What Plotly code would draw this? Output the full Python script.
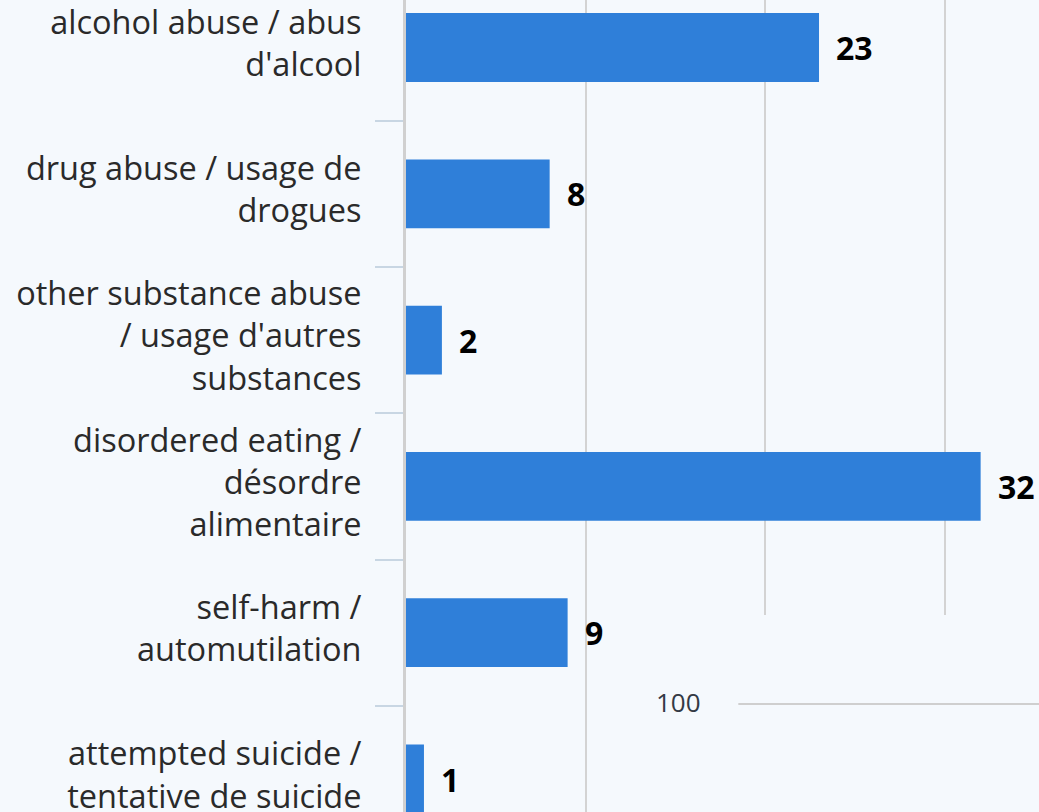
import plotly.graph_objects as go

# Reported experiences (count of respondents)
categories = [
    "alcohol abuse / abus<br>d'alcool",
    "drug abuse / usage de<br>drogues",
    "other substance abuse<br>/ usage d'autres<br>substances",
    "disordered eating /<br>désordre<br>alimentaire",
    "self-harm /<br>automutilation",
    "attempted suicide /<br>tentative de suicide",
]
counts = [23, 8, 2, 32, 9, 1]

legend_label = "100"

BG = "#f5f9fd"
BAR = "#2f7fd9"
FONT = "Open Sans"

fig = go.Figure(
    go.Bar(
        x=counts,
        y=categories,
        orientation="h",
        marker=dict(color=BAR, line=dict(width=0)),
        hoverinfo="skip",
    )
)

# Bold value labels just past the end of each bar
for c, v in zip(categories, counts):
    fig.add_annotation(
        x=v, y=c, xref="x", yref="y",
        text=f"<b>{v}</b>",
        showarrow=False, xanchor="left", yanchor="middle", xshift=15,
        font=dict(family=FONT, size=32, color="#000000"),
    )

# Overlay panel in the lower right with its "100" marker line
fig.add_shape(
    type="rect", xref="paper", yref="paper",
    x0=0.31, x1=1.02, y0=-0.02, y1=0.2426,
    fillcolor=BG, line=dict(width=0), layer="above",
)
fig.add_shape(
    type="line", xref="paper", yref="paper",
    x0=0.525, x1=1.02, y0=0.1330, y1=0.1330,
    line=dict(color="#cfcfcf", width=2), layer="above",
)
fig.add_annotation(
    x=0.43, y=0.1355, xref="paper", yref="paper",
    text=legend_label, showarrow=False, xanchor="center", yanchor="middle",
    font=dict(family=FONT, size=26, color="#333a45"),
)

fig.update_layout(
    width=1039,
    height=812,
    margin=dict(l=406, r=0, t=0, b=0, pad=0, autoexpand=False),
    paper_bgcolor=BG,
    plot_bgcolor=BG,
    bargap=0.53,
    showlegend=False,
    font=dict(family=FONT, size=32.5, color="#2a2a2a"),
    xaxis=dict(
        range=[0, 35.25],
        tickvals=[10, 20, 30],
        showticklabels=False,
        showgrid=True,
        gridcolor="#d3d3d3",
        gridwidth=2,
        zeroline=False,
        showline=False,
        automargin=False,
        fixedrange=True,
    ),
    yaxis=dict(
        type="category",
        range=[5.2256, -0.3247],
        showgrid=False,
        zeroline=False,
        showline=True,
        linecolor="#d0d0d0",
        linewidth=3,
        ticks="outside",
        tickson="boundaries",
        ticklen=28,
        tickwidth=2,
        tickcolor="#c8d6e3",
        ticklabelstandoff=35,
        ticklabelshift=4,
        tickfont=dict(family=FONT, size=32.5, color="#2a2a2a"),
        automargin=False,
        fixedrange=True,
    ),
)

fig.write_html("out.html")
